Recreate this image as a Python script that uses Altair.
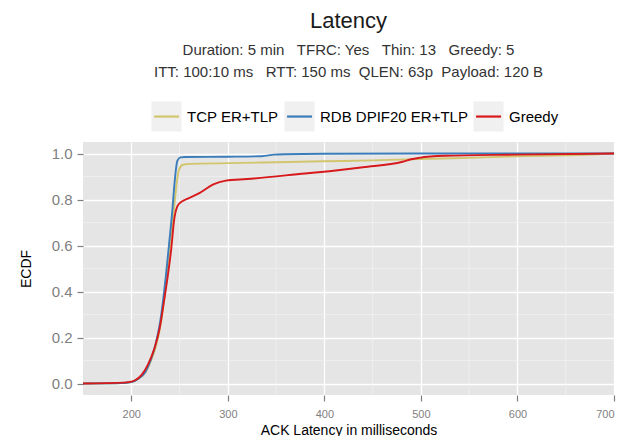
import altair as alt
import pandas as pd

series_names = ["TCP ER+TLP", "RDB DPIF20 ER+TLP", "Greedy"]
series_colors = ["#D2C56E", "#3A7DBA", "#D7191C"]
key_box_color = "#F0F0F0"

tcp_x = [150, 190, 200, 207, 215, 220.5, 226, 231, 236.5, 240, 244, 247, 249.5, 253.5, 262, 300, 350, 400, 450, 500, 550, 600, 650, 700]
tcp_y = [0.0, 0.002, 0.006, 0.02, 0.05, 0.1, 0.168, 0.27, 0.458, 0.6, 0.75, 0.87, 0.93, 0.951, 0.955, 0.958, 0.962, 0.966, 0.97, 0.976, 0.981, 0.988, 0.992, 1.0]

rdb_x = [150, 190, 200, 207, 214.6, 220, 225, 230, 235.6, 239, 242.5, 245, 247.7, 251, 256, 300, 335, 348, 360, 400, 500, 700]
rdb_y = [0.0, 0.002, 0.006, 0.02, 0.05, 0.1, 0.168, 0.27, 0.458, 0.6, 0.75, 0.88, 0.968, 0.983, 0.985, 0.986, 0.988, 0.995, 0.997, 0.999, 1.0, 1.0]

greedy_x = [150, 193, 200, 204, 210.5, 217, 224, 229.4, 234, 238, 241.5, 244.2, 247.7, 252, 258, 271, 285, 298, 320, 380, 405, 440, 481, 490, 498, 525, 597, 700]
greedy_y = [0.0, 0.004, 0.008, 0.014, 0.036, 0.08, 0.153, 0.24, 0.36, 0.473, 0.589, 0.705, 0.77, 0.79, 0.803, 0.829, 0.866, 0.882, 0.889, 0.913, 0.923, 0.94, 0.964, 0.975, 0.981, 0.99, 0.995, 1.0]

x_ticks = [200, 300, 400, 500, 600, 700]
y_ticks = [0.0, 0.2, 0.4, 0.6, 0.8, 1.0]
x_minor = [250, 350, 450, 550, 650]
y_minor = [0.1, 0.3, 0.5, 0.7, 0.9]

NB = "\u00a0"
title_text = "Latency"
subtitle_lines = [
    f"Duration: 5 min{NB*3}TFRC: Yes{NB*3}Thin: 13{NB*3}Greedy: 5",
    f"ITT: 100:10 ms{NB*3}RTT: 150 ms{NB*2}QLEN: 63p{NB*2}Payload: 120 B",
]

rows = []
order = 0
for name, xs, ys in zip(series_names, [tcp_x, rdb_x, greedy_x], [tcp_y, rdb_y, greedy_y]):
    for xv, yv in zip(xs, ys):
        rows.append({"series": name, "latency": xv, "ecdf": yv, "o": order})
        order += 1
df = pd.DataFrame(rows)

xscale = alt.Scale(domain=[150, 700], nice=False, zero=False)
yscale = alt.Scale(domain=[-0.05, 1.05], nice=False, zero=False)

font = "Liberation Sans"

# legend key: grey square (filled) whose stroke is dashed so that only the
# first segment (a short horizontal line through the centre) is drawn
KEY_PATH = "M-0.83,0L1,0L1,-1L-1,-1L-1,1L1,1L1,0Z"

minor_x = alt.Chart(pd.DataFrame({"v": x_minor})).mark_rule(
    color="#F2F2F2", strokeWidth=0.7
).encode(x=alt.X("v:Q", scale=xscale))

minor_y = alt.Chart(pd.DataFrame({"v": y_minor})).mark_rule(
    color="#F2F2F2", strokeWidth=0.7
).encode(y=alt.Y("v:Q", scale=yscale))

lines = alt.Chart(df).mark_line(strokeWidth=1.9, interpolate="monotone").encode(
    x=alt.X(
        "latency:Q",
        scale=xscale,
        axis=alt.Axis(
            values=x_ticks,
            title="ACK Latency in milliseconds",
            format="d",
            grid=True,
        ),
    ),
    y=alt.Y(
        "ecdf:Q",
        scale=yscale,
        axis=alt.Axis(values=y_ticks, title="ECDF", format=".1f", grid=True),
    ),
    stroke=alt.Stroke(
        "series:N",
        scale=alt.Scale(domain=series_names, range=series_colors),
        sort=series_names,
        legend=alt.Legend(
            orient="none",
            legendX=67,
            legendY=-42,
            direction="horizontal",
            title=None,
            symbolType=KEY_PATH,
            symbolSize=900,
            symbolFillColor=key_box_color,
            symbolStrokeWidth=2.2,
            symbolDash=[25, 400],
            labelFontSize=15,
            labelColor="#000000",
            labelFont=font,
            columnPadding=1,
            labelOffset=4,
        ),
    ),
    order=alt.Order("o:Q"),
)

chart = alt.layer(minor_x, minor_y, lines).properties(
    width=531,
    height=253,
    autosize=alt.AutoSizeParams(type="none"),
    padding={"left": 75, "top": 134, "right": 2, "bottom": 41},
    title=alt.TitleParams(
        text=title_text,
        subtitle=subtitle_lines,
        anchor="middle",
        frame="group",
        font=font,
        fontSize=22,
        fontWeight="normal",
        color="#1a1a1a",
        subtitleFont=font,
        subtitleFontSize=15,
        subtitleColor="#333333",
        subtitleLineHeight=22,
        subtitlePadding=10,
        offset=19,
    ),
).configure_view(
    fill="#E5E5E5", stroke=None
).configure_axis(
    gridColor="#FFFFFF",
    gridWidth=1.3,
    domain=False,
    tickColor="#7F7F7F",
    tickSize=6,
    tickWidth=1.2,
    labelColor="#7F7F7F",
    labelFont=font,
    titleFont=font,
    titleFontWeight="normal",
    titleColor="#000000",
).configure_axisX(
    labelFontSize=11,
    labelPadding=7,
    titleFontSize=14,
    titlePadding=4,
).configure_axisY(
    labelFontSize=15,
    labelPadding=5,
    titleFontSize=14,
    titlePadding=18,
)

chart.save("out.html", embed_options={"renderer": "svg", "actions": False})
